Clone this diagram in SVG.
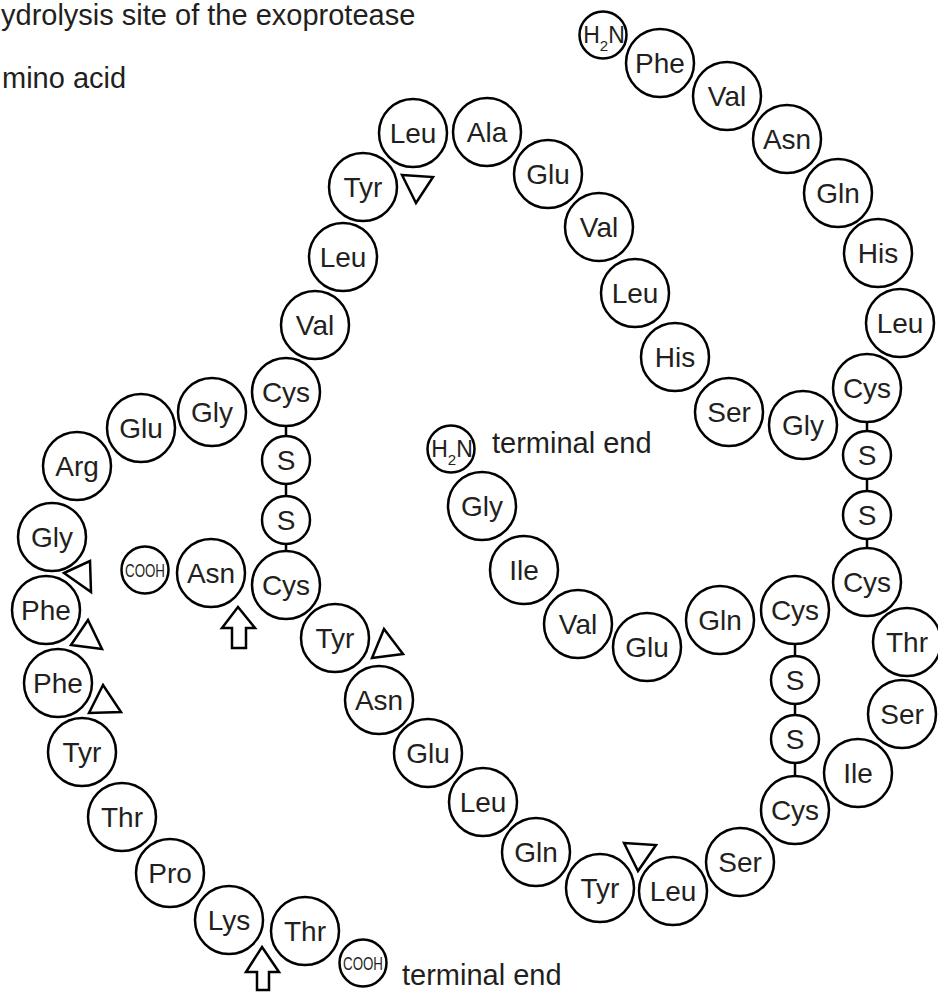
<svg xmlns="http://www.w3.org/2000/svg" width="938" height="992" viewBox="0 0 938 992">
<style>
  .aa circle { fill: #fff; stroke: #000; stroke-width: 2.5; }
  .aa text { font-family: "Liberation Sans", Arial, sans-serif; font-size: 28px; fill: #231f20; text-anchor: middle; }
  .sm text { font-size: 23px; }
  .co text { font-size: 19px; }
  .lbl { font-family: "Liberation Sans", Arial, sans-serif; font-size: 29px; fill: #231f20; }
  .bond { stroke: #000; stroke-width: 2.5; }
  .mk { fill: #fff; stroke: #000; stroke-width: 2.5; stroke-linejoin: miter; }
</style>

<text class="lbl" x="1" y="25">ydrolysis site of the exoprotease</text>
<text class="lbl" x="2" y="88">mino acid</text>
<text class="lbl" x="492" y="453">terminal end</text>
<text class="lbl" x="402" y="985">terminal end</text>

<g id="connectors">
  <line class="bond" x1="867" y1="388" x2="867" y2="582"/>
  <line class="bond" x1="286" y1="392" x2="286" y2="585"/>
  <line class="bond" x1="795" y1="610" x2="795" y2="810"/>
</g>

<g class="aa">
  <!-- B chain -->
  <g id="b-nterm" class="sm"><circle cx="603" cy="35" r="23.5"/><text x="604" y="43">H<tspan font-size="15" dy="8">2</tspan><tspan dy="-8">N</tspan></text></g>
  <g id="b1"><circle cx="660" cy="63" r="34"/><text x="660" y="73">Phe</text></g>
  <g id="b2"><circle cx="727" cy="96" r="34"/><text x="727" y="106">Val</text></g>
  <g id="b3"><circle cx="787" cy="139" r="34"/><text x="787" y="149">Asn</text></g>
  <g id="b4"><circle cx="838" cy="193" r="34"/><text x="838" y="203">Gln</text></g>
  <g id="b5"><circle cx="878" cy="253" r="34"/><text x="878" y="263">His</text></g>
  <g id="b6"><circle cx="900" cy="323" r="34"/><text x="900" y="333">Leu</text></g>
  <g id="b7"><circle cx="867" cy="388" r="34"/><text x="867" y="398">Cys</text></g>
  <g id="b8"><circle cx="803" cy="425" r="34"/><text x="803" y="435">Gly</text></g>
  <g id="b9"><circle cx="729" cy="412" r="34"/><text x="729" y="422">Ser</text></g>
  <g id="b10"><circle cx="675" cy="357" r="34"/><text x="675" y="367">His</text></g>
  <g id="b11"><circle cx="635" cy="293" r="34"/><text x="635" y="303">Leu</text></g>
  <g id="b12"><circle cx="599" cy="227" r="34"/><text x="599" y="237">Val</text></g>
  <g id="b13"><circle cx="548" cy="174" r="34"/><text x="548" y="184">Glu</text></g>
  <g id="b14"><circle cx="487" cy="132" r="34"/><text x="487" y="142">Ala</text></g>
  <g id="b15"><circle cx="413" cy="133" r="34"/><text x="413" y="143">Leu</text></g>
  <g id="b16"><circle cx="363" cy="187" r="34"/><text x="363" y="197">Tyr</text></g>
  <g id="b17"><circle cx="343" cy="257" r="34"/><text x="343" y="267">Leu</text></g>
  <g id="b18"><circle cx="315" cy="325" r="34"/><text x="315" y="335">Val</text></g>
  <g id="b19"><circle cx="286" cy="392" r="34"/><text x="286" y="402">Cys</text></g>
  <g id="b20"><circle cx="212" cy="412" r="34"/><text x="212" y="422">Gly</text></g>
  <g id="b21"><circle cx="141" cy="428" r="34"/><text x="141" y="438">Glu</text></g>
  <g id="b22"><circle cx="77" cy="466" r="34"/><text x="77" y="476">Arg</text></g>
  <g id="b23"><circle cx="52" cy="537" r="34"/><text x="52" y="547">Gly</text></g>
  <g id="b24"><circle cx="46" cy="610" r="34"/><text x="46" y="620">Phe</text></g>
  <g id="b25"><circle cx="58" cy="683" r="34"/><text x="58" y="693">Phe</text></g>
  <g id="b26"><circle cx="82" cy="752" r="34"/><text x="82" y="762">Tyr</text></g>
  <g id="b27"><circle cx="122" cy="817" r="34"/><text x="122" y="827">Thr</text></g>
  <g id="b28"><circle cx="170" cy="873" r="34"/><text x="170" y="883">Pro</text></g>
  <g id="b29"><circle cx="229" cy="920" r="34"/><text x="229" y="930">Lys</text></g>
  <g id="b30"><circle cx="305" cy="931" r="34"/><text x="305" y="941">Thr</text></g>
  <g id="b-cterm" class="co"><circle cx="363" cy="963" r="23.5"/><text x="363" y="970" textLength="40" lengthAdjust="spacingAndGlyphs">COOH</text></g>

  <!-- A chain -->
  <g id="a-nterm" class="sm"><circle cx="451" cy="449" r="23.5"/><text x="452" y="457">H<tspan font-size="15" dy="8">2</tspan><tspan dy="-8">N</tspan></text></g>
  <g id="a1"><circle cx="482" cy="506" r="34"/><text x="482" y="516">Gly</text></g>
  <g id="a2"><circle cx="524" cy="570" r="34"/><text x="524" y="580">Ile</text></g>
  <g id="a3"><circle cx="578" cy="624" r="34"/><text x="578" y="634">Val</text></g>
  <g id="a4"><circle cx="647" cy="647" r="34"/><text x="647" y="657">Glu</text></g>
  <g id="a5"><circle cx="720" cy="620" r="34"/><text x="720" y="630">Gln</text></g>
  <g id="a6"><circle cx="795" cy="610" r="34"/><text x="795" y="620">Cys</text></g>
  <g id="a7"><circle cx="867" cy="582" r="34"/><text x="867" y="592">Cys</text></g>
  <g id="a8"><circle cx="907" cy="642" r="34"/><text x="907" y="652">Thr</text></g>
  <g id="a9"><circle cx="902" cy="714" r="34"/><text x="902" y="724">Ser</text></g>
  <g id="a10"><circle cx="858" cy="773" r="34"/><text x="858" y="783">Ile</text></g>
  <g id="a11"><circle cx="795" cy="810" r="34"/><text x="795" y="820">Cys</text></g>
  <g id="a12"><circle cx="740" cy="862" r="34"/><text x="740" y="872">Ser</text></g>
  <g id="a13"><circle cx="673" cy="891" r="34"/><text x="673" y="901">Leu</text></g>
  <g id="a14"><circle cx="600" cy="888" r="34"/><text x="600" y="898">Tyr</text></g>
  <g id="a15"><circle cx="536" cy="852" r="34"/><text x="536" y="862">Gln</text></g>
  <g id="a16"><circle cx="483" cy="802" r="34"/><text x="483" y="812">Leu</text></g>
  <g id="a17"><circle cx="428" cy="753" r="34"/><text x="428" y="763">Glu</text></g>
  <g id="a18"><circle cx="379" cy="700" r="34"/><text x="379" y="710">Asn</text></g>
  <g id="a19"><circle cx="335" cy="638" r="34"/><text x="335" y="648">Tyr</text></g>
  <g id="a20"><circle cx="286" cy="585" r="34"/><text x="286" y="595">Cys</text></g>
  <g id="a21"><circle cx="211" cy="573" r="34"/><text x="211" y="583">Asn</text></g>
  <g id="a-cterm" class="co"><circle cx="145" cy="570" r="23.5"/><text x="145" y="577" textLength="40" lengthAdjust="spacingAndGlyphs">COOH</text></g>

  <!-- disulfide sulfur atoms -->
  <g id="s1"><circle cx="867" cy="455" r="24"/><text x="867" y="465">S</text></g>
  <g id="s2"><circle cx="867" cy="515" r="24"/><text x="867" y="525">S</text></g>
  <g id="s3"><circle cx="286" cy="460" r="24"/><text x="286" y="470">S</text></g>
  <g id="s4"><circle cx="286" cy="520" r="24"/><text x="286" y="530">S</text></g>
  <g id="s5"><circle cx="795" cy="680" r="24"/><text x="795" y="690">S</text></g>
  <g id="s6"><circle cx="795" cy="739" r="24"/><text x="795" y="749">S</text></g>
</g>

<g id="sites">
  <polygon class="mk" points="402,175 433,177 416,203"/>
  <polygon class="mk" points="64,573 90,561 91,592"/>
  <polygon class="mk" points="88,620 71,645 102,649"/>
  <polygon class="mk" points="103,685 89,713 121,712"/>
  <polygon class="mk" points="384,629 372,658 403,654"/>
  <polygon class="mk" points="624,843 656,845 638,871"/>
  <polygon class="mk" points="238,607 255,628 246,628 246,648 232,648 232,628 222,628"/>
  <polygon class="mk" points="262,947 279,972 269,972 269,990 257,990 257,972 246,972"/>
</g>
</svg>
